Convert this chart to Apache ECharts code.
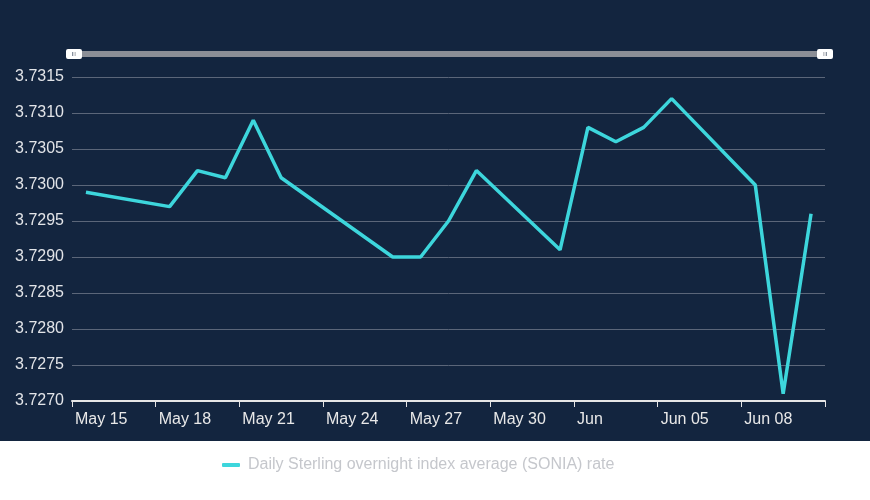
<!DOCTYPE html>
<html>
<head>
<meta charset="utf-8">
<script src="https://cdn.jsdelivr.net/npm/echarts@6/dist/echarts.min.js"></script>
<style>
    html, body { margin: 0; padding: 0; background: #fff; }
    #chart { width: 870px; height: 500px; background: linear-gradient(#13253f 0, #13253f 441px, #fff 441px); }
</style>
</head>
<body>
<div id="chart"></div>
<script>
    // SONIA daily fixings
    var startDate = '2024-05-15';
    var dates = ['2024-05-15', '2024-05-18', '2024-05-19', '2024-05-20', '2024-05-21', '2024-05-22',
        '2024-05-26', '2024-05-27', '2024-05-28', '2024-05-29', '2024-06-01', '2024-06-02',
        '2024-06-03', '2024-06-04', '2024-06-05', '2024-06-08', '2024-06-09', '2024-06-10'];
    var rates = [3.7299, 3.7297, 3.7302, 3.7301, 3.7309, 3.7301,
        3.7290, 3.7290, 3.7295, 3.7302, 3.7291, 3.7308,
        3.7306, 3.7308, 3.7312, 3.7300, 3.7271, 3.7296];
    var tickLabels = ['May 15', 'May 18', 'May 21', 'May 24', 'May 27', 'May 30', 'Jun', 'Jun 05', 'Jun 08'];
    var seriesName = 'Daily Sterling overnight index average (SONIA) rate';

    var DAY = 24 * 3600 * 1000;
    function dayIndex(d) {
        return Math.round((new Date(d + 'T00:00:00Z') - new Date(startDate + 'T00:00:00Z')) / DAY);
    }
    // each point sits in the middle of its day
    var lineData = dates.map(function (d, i) {
        return [dayIndex(d) + 0.5, rates[i]];
    });

    var myChart = echarts.init(document.getElementById('chart'));
    var option = {
        backgroundColor: 'transparent',
        textStyle: { fontFamily: 'Liberation Sans, Arial, sans-serif' },
        grid: { left: 72, right: 45, top: 77, bottom: 99 },
        dataZoom: [{
            type: 'slider',
            xAxisIndex: 0,
            filterMode: 'none',
            start: 0,
            end: 100,
            left: 72,
            right: 45,
            top: 51,
            height: 6,
            showDetail: false,
            showDataShadow: false,
            brushSelect: false,
            moveHandleSize: 0,
            borderColor: 'transparent',
            backgroundColor: '#8b8e96',
            fillerColor: '#8b8e96',
            handleIcon: 'path://M2,0H14A2,2 0 0 1 16,2V8A2,2 0 0 1 14,10H2A2,2 0 0 1 0,8V2A2,2 0 0 1 2,0ZM6.5,3V7H7.3V3ZM8.7,3V7H9.5V3Z',
            handleSize: 16,
            handleStyle: { color: '#ffffff', borderColor: '#ffffff', borderWidth: 0 }
        }],
        legend: {
            data: [seriesName],
            left: 222,
            top: 457,
            padding: 0,
            icon: 'roundRect',
            itemWidth: 18,
            itemHeight: 4,
            textStyle: { color: '#c5c7cc', fontSize: 16, padding: [0, 0, 0, 3] }
        },
        xAxis: {
            type: 'value',
            min: 0,
            max: 27,
            interval: 3,
            splitLine: { show: false },
            axisLine: { show: true, lineStyle: { color: '#e6e6e6', width: 2 } },
            axisTick: { show: true, length: 6, lineStyle: { color: '#e6e6e6', width: 1 } },
            axisLabel: {
                color: '#e8e8e8',
                fontSize: 16,
                margin: 11,
                align: 'left',
                padding: [0, 0, 0, 3],
                showMaxLabel: true,
                formatter: function (v) {
                    return tickLabels[Math.round(v / 3)] || '';
                }
            }
        },
        yAxis: {
            type: 'value',
            min: 3.7270,
            max: 3.7315,
            interval: 0.0005,
            axisLine: { show: false },
            axisTick: { show: false },
            splitLine: { lineStyle: { color: '#5b6679', width: 1 } },
            axisLabel: {
                color: '#e2e4e8',
                fontSize: 16,
                margin: 8,
                formatter: function (v) { return v.toFixed(4); }
            }
        },
        series: [{
            name: seriesName,
            type: 'line',
            data: lineData,
            symbol: 'none',
            color: '#3dd6dc',
            lineStyle: { color: '#3dd6dc', width: 3.5 }
        }]
    };
    myChart.setOption(option);
</script>
</body>
</html>
